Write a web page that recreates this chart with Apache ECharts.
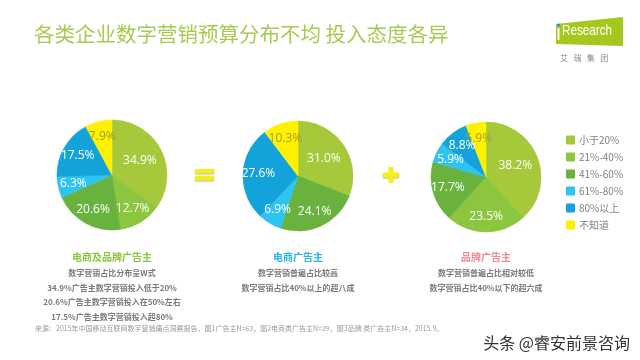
<!DOCTYPE html>
<html><head><meta charset="utf-8">
<script src="https://cdn.jsdelivr.net/npm/echarts@6/dist/echarts.min.js"></script>
<style>html,body{margin:0;padding:0;background:#fff}#c{width:640px;height:360px}</style>
</head><body><div id="c"></div>
<script>
const categories = ['小于20%', '21%-40%', '41%-60%', '61%-80%', '80%以上', '不知道'];
const colors = ['#a5c93b', '#8cc63f', '#6ab23e', '#2ec3f1', '#13a3da', '#fff200'];
const allValues = [34.9, 12.7, 20.6, 6.3, 17.5, 7.9];
const ecomValues = [31.0, 0, 24.1, 6.9, 27.6, 10.3];
const brandValues = [38.2, 23.5, 17.7, 5.9, 8.8, 5.9];
const groupTitles = ['电商及品牌广告主', '电商广告主', '品牌广告主'];
const groupNotes = [
  ['数字营销占比分布呈W式', '34.9%广告主数字营销投入低于20%', '20.6%广告主数字营销投入在50%左右', '17.5%广告主数字营销投入超80%'],
  ['数字营销普遍占比较高', '数字营销占比40%以上的超八成'],
  ['数字营销普遍占比相对较低', '数字营销占比40%以下的超六成']
];
const titleText = '各类企业数字营销预算分布不均 投入态度各异';
const sourceText = '来源：2015年中国移动互联网数字营销痛点洞察报告，图1广告主N=63，图2电商类广告主N=29，图3品牌 类广告主N=34，2015.9。';

const seriesValues = [allValues, ecomValues, brandValues];
const centers = [[112, 175], [298, 176], [486, 177]];
const R = 55;
const titleColors = ['#8cc63f', '#2ab3e6', '#f08a96'];

function mkData(vals) {
  return vals.map((v, i) => ({
    name: categories[i], value: v,
    itemStyle: { color: colors[i], borderColor: colors[i], borderWidth: 0.6 },
    label: { color: i === 5 ? '#a39a35' : '#ffffff' }
  }));
}

// push labels of smaller slices further out (like Excel "best fit")
function placeLabel(p) {
  const c = centers[p.seriesIndex];
  const v = seriesValues[p.seriesIndex][p.dataIndex];
  const lx = p.labelRect.x + p.labelRect.width / 2;
  const ly = p.labelRect.y + p.labelRect.height / 2;
  const dx = lx - c[0], dy = ly - c[1];
  const d = Math.sqrt(dx * dx + dy * dy) || 1;
  const f = (v >= 30 ? 0.57 : 0.72) * R;
  return { x: c[0] + dx / d * f, y: c[1] + dy / d * f, hideOverlap: false };
}

const series = seriesValues.map((vals, k) => ({
  type: 'pie', center: centers[k], radius: [0, R], startAngle: 90, clockwise: true,
  avoidLabelOverlap: false, silent: true, padAngle: 0,
  labelLayout: placeLabel,
  label: { position: 'inside', fontSize: 12, fontFamily: 'Open Sans, sans-serif',
    formatter: p => p.value > 0 ? p.value.toFixed(1) + '%' : '' },
  labelLine: { show: false },
  data: mkData(vals)
}));

const graphics = [
  { type: 'text', left: 34, top: 24, style: { text: titleText, fill: '#a8ca52', fontSize: 20.5, fontFamily: 'Noto Sans CJK SC' } },
  { type: 'polygon', shape: { points: [[556, 24], [623, 17], [623, 46], [556, 44]] }, style: { fill: '#a5c81f' } },
  { type: 'text', x: 562, y: 23, scaleX: 0.78, style: { text: 'Research', fill: '#fff', fontSize: 15, fontFamily: 'Liberation Sans, sans-serif' } },
  { type: 'rect', shape: { x: 557.5, y: 28, width: 2, height: 12 }, style: { fill: '#fff' } },
  { type: 'circle', shape: { cx: 558.5, cy: 25, r: 1.5 }, style: { fill: '#1a9fd8' } },
  { type: 'text', x: 560, y: 54, style: { text: '艾   瑞   集   团', fill: '#888', fontSize: 8, fontFamily: 'Noto Sans CJK SC' } },
  { type: 'rect', shape: { x: 195, y: 169, width: 19, height: 4.5 }, style: { fill: '#f3ef1c', shadowColor: 'rgba(120,120,0,0.5)', shadowBlur: 2, shadowOffsetY: 1 } },
  { type: 'rect', shape: { x: 195, y: 176, width: 19, height: 4.5 }, style: { fill: '#f3ef1c', shadowColor: 'rgba(120,120,0,0.5)', shadowBlur: 2, shadowOffsetY: 1 } },
  { type: 'rect', shape: { x: 383, y: 172.5, width: 16, height: 5, r: 1 }, style: { fill: '#f3ef1c', shadowColor: 'rgba(120,120,0,0.5)', shadowBlur: 2, shadowOffsetY: 1 } },
  { type: 'rect', shape: { x: 388.5, y: 167, width: 5, height: 16, r: 1 }, style: { fill: '#f3ef1c' } },
  { type: 'text', x: 35, y: 325, style: { text: sourceText, fill: '#999', fontSize: 7, fontFamily: 'Noto Sans CJK SC' } },
  { type: 'text', x: 630, y: 343, style: { text: '头条 @睿安前景咨询', fill: '#333', fontSize: 16, fontFamily: 'Noto Sans CJK SC', align: 'right', verticalAlign: 'middle', textShadowColor: '#fff', textShadowBlur: 3 } }
];
groupTitles.forEach((t, k) => {
  const cx = centers[k][0];
  graphics.push({ type: 'text', x: cx, y: 257, style: { text: t, fill: titleColors[k], fontSize: 10, fontWeight: 'bold', fontFamily: 'Noto Sans CJK SC', align: 'center', verticalAlign: 'middle' } });
  groupNotes[k].forEach((line, j) => {
    graphics.push({ type: 'text', x: cx, y: 273 + j * 14.6, style: { text: line, fill: '#7a7a7a', fontSize: 8, fontWeight: 'bold', fontFamily: 'Noto Sans CJK SC', align: 'center', verticalAlign: 'middle' } });
  });
});

const chart = echarts.init(document.getElementById('c'));
chart.setOption({
  animation: false,
  legend: {
    orient: 'vertical', left: 561, top: 130, itemWidth: 7, itemHeight: 7, itemGap: 7,
    icon: 'rect', data: categories,
    textStyle: { color: '#808080', fontSize: 10, fontFamily: 'Noto Sans CJK SC' }
  },
  series: series,
  graphic: graphics
});
</script></body></html>
